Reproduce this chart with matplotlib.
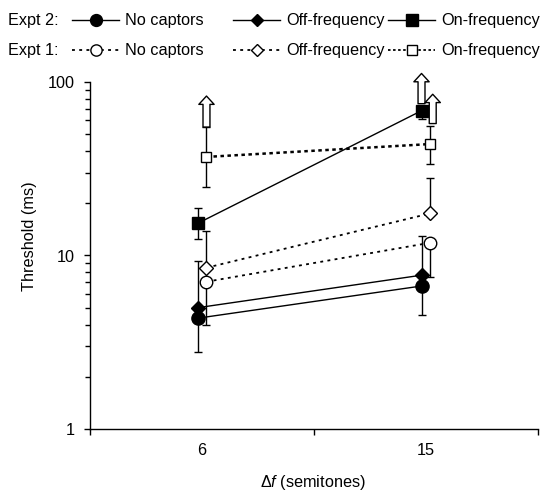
import matplotlib
matplotlib.use("Agg")
import matplotlib.pyplot as plt
from matplotlib.lines import Line2D
from matplotlib.ticker import LogLocator, NullFormatter, FixedLocator, FixedFormatter

plt.rcParams['font.family'] = ['Liberation Sans', 'DejaVu Sans']
plt.rcParams['mathtext.fontset'] = 'custom'
plt.rcParams['mathtext.rm'] = 'Liberation Sans'
plt.rcParams['mathtext.it'] = 'Liberation Sans:italic'
FS = 11.7

# ---------------- data ----------------
categories = ["6", "15"]
x_pos = [0.5, 1.5]

# Expt 2 (filled symbols, solid lines)
e2_no_captors = [4.35, 6.67]
e2_no_captors_lo = [2.77, 4.54]
e2_off_freq = [5.0, 7.7]
e2_off_freq_hi = [9.3, 13.0]
e2_on_freq = [15.3, 68.3]
e2_on_freq_lo = [12.4, 61.0]
e2_on_freq_hi = [18.9, 68.3]

# Expt 1 (open symbols, dotted lines)
e1_no_captors = [7.06, 11.85]
e1_no_captors_lo = [4.0, 7.55]
e1_off_freq = [8.5, 17.5]
e1_off_freq_hi = [13.8, 27.9]
e1_on_freq = [37.0, 43.9]
e1_on_freq_lo = [24.7, 33.7]
e1_on_freq_hi = [55.0, 56.0]

# "greater than" arrows: (x, start value, end value)
arrow_x = [0.52, 1.48, 1.53]
arrow_from = [55.0, 75.0, 57.6]
arrow_to = [83.0, 112.0, 85.0]

# ---------------- figure ----------------
fig = plt.figure(figsize=(5.51, 4.94), dpi=100)
ax = fig.add_axes([90/551, 1-429/494, (538-90)/551, (429-82)/494])

off2, off1 = -0.02, 0.02
x2 = [x + off2 for x in x_pos]
x1 = [x + off1 for x in x_pos]

def err(vals, lo=None, hi=None):
    lower = [v - l for v, l in zip(vals, lo)] if lo else [0]*len(vals)
    upper = [h - v for v, h in zip(vals, hi)] if hi else [0]*len(vals)
    return [lower, upper]

eb_kw = dict(fmt='none', ecolor='black', elinewidth=1.0, capsize=3, capthick=1.0, zorder=2)

ax.errorbar(x2, e2_no_captors, yerr=err(e2_no_captors, lo=e2_no_captors_lo), **eb_kw)
ax.errorbar(x2, e2_off_freq, yerr=err(e2_off_freq, hi=e2_off_freq_hi), **eb_kw)
ax.errorbar(x2, e2_on_freq, yerr=err(e2_on_freq, lo=e2_on_freq_lo, hi=e2_on_freq_hi), **eb_kw)
ax.errorbar(x1, e1_no_captors, yerr=err(e1_no_captors, lo=e1_no_captors_lo), **eb_kw)
ax.errorbar(x1, e1_off_freq, yerr=err(e1_off_freq, hi=e1_off_freq_hi), **eb_kw)
ax.errorbar(x1, e1_on_freq, yerr=err(e1_on_freq, lo=e1_on_freq_lo, hi=e1_on_freq_hi), **eb_kw)

dot_fine = (0, (1.6, 2.4))
dot_bold = (0, (1.4, 1.4))

series = [
    (x2, e2_no_captors, 'o', 'black', '-', 1.0, 9.5),
    (x2, e2_off_freq, 'D', 'black', '-', 1.0, 7.0),
    (x2, e2_on_freq, 's', 'black', '-', 1.0, 9.0),
    (x1, e1_no_captors, 'o', 'white', dot_fine, 1.3, 9.0),
    (x1, e1_off_freq, 'D', 'white', dot_fine, 1.3, 7.0),
    (x1, e1_on_freq, 's', 'white', dot_bold, 1.8, 7.5),
]
for xs, ys, m, fc, ls, lw, ms in series:
    ax.plot(xs, ys, color='black', linestyle=ls, linewidth=lw, zorder=3)
    ax.plot(xs, ys, linestyle='none', marker=m, markersize=ms, markerfacecolor=fc,
            markeredgecolor='black', markeredgewidth=1.0, zorder=4)

for xa, ya0, ya1 in zip(arrow_x, arrow_from, arrow_to):
    ax.annotate("", xy=(xa, ya1), xytext=(xa, ya0), annotation_clip=False,
                arrowprops=dict(arrowstyle="simple,head_length=6,head_width=11,tail_width=5",
                                mutation_scale=1, fc='white', ec='black', lw=1.0,
                                shrinkA=0, shrinkB=0, clip_on=False), zorder=5)

ax.set_yscale('log')
ax.set_ylim(1, 100)
ax.set_xlim(0, 2)
for s in ['top', 'right']:
    ax.spines[s].set_visible(False)
ax.spines['left'].set_linewidth(1.0)
ax.spines['bottom'].set_linewidth(1.0)

ax.yaxis.set_major_locator(FixedLocator([1, 10, 100]))
ax.yaxis.set_major_formatter(FixedFormatter(["1", "10", "100"]))
ax.yaxis.set_minor_locator(LogLocator(base=10, subs=range(2, 10)))
ax.yaxis.set_minor_formatter(NullFormatter())
ax.tick_params(axis='y', which='major', direction='out', length=4, width=1, pad=7, labelsize=FS)
ax.tick_params(axis='y', which='minor', direction='out', length=3.5, width=1)

ax.xaxis.set_major_locator(FixedLocator([0, 1, 2]))
ax.xaxis.set_major_formatter(NullFormatter())
ax.xaxis.set_minor_locator(FixedLocator(x_pos))
ax.xaxis.set_minor_formatter(FixedFormatter(categories))
ax.tick_params(axis='x', which='major', direction='out', length=4, width=1)
ax.tick_params(axis='x', which='minor', length=0, pad=10, labelsize=FS)

ax.set_ylabel("Threshold (ms)", fontsize=FS)
ax.yaxis.set_label_coords(-0.118, (429-236)/(429-82))
ax.set_xlabel(r"$\Delta\mathit{f}$ (semitones)", fontsize=FS)
ax.xaxis.set_label_coords((313-90)/448, -(473-429)/347)

# ---------------- legend (manual, two rows) ----------------
W, H = 551, 494
def fx(px): return px / W
def fy(py): return 1 - py / H

rows = [(20, "Expt 2:", [('o', 'black', '-', 1.0, 9.5), ('D', 'black', '-', 1.0, 7.0), ('s', 'black', '-', 1.0, 9.0)]),
        (50, "Expt 1:", [('o', 'white', dot_fine, 1.3, 9.0), ('D', 'white', dot_fine, 1.3, 7.0), ('s', 'white', dot_bold, 1.3, 7.5)])]
labels = ["No captors", "Off-frequency", "On-frequency"]
starts = [72, 233, 388]
hl = 47
for py, title, entries in rows:
    fig.text(fx(8), fy(py), title, fontsize=FS, va='center', ha='left')
    for (m, fc, ls, lw, ms), lab, x0 in zip(entries, labels, starts):
        fig.add_artist(Line2D([fx(x0), fx(x0 + hl)], [fy(py), fy(py)], color='black',
                              linestyle=ls, linewidth=lw, transform=fig.transFigure))
        fig.add_artist(Line2D([fx(x0 + hl/2)], [fy(py)], marker=m, markersize=ms*0.9,
                              markerfacecolor=fc, markeredgecolor='black', markeredgewidth=1.0,
                              linestyle='none', transform=fig.transFigure))
        fig.text(fx(x0 + hl + 6), fy(py), lab, fontsize=FS, va='center', ha='left')

fig.savefig("out.png", dpi=100)
